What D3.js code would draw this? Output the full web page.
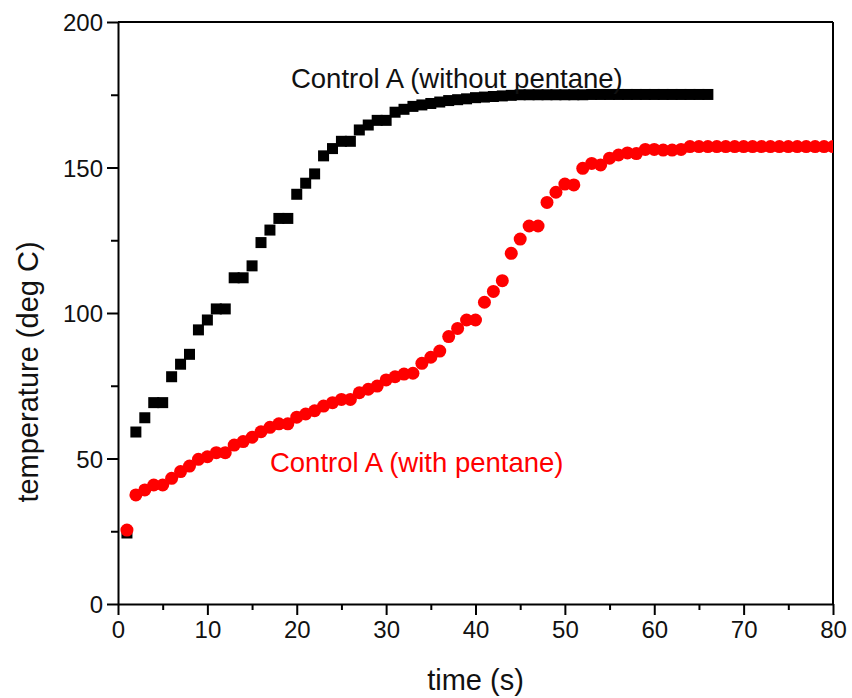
<!DOCTYPE html>
<html>
<head>
<meta charset="utf-8">
<script src="https://cdn.jsdelivr.net/npm/d3@7"></script>
<style>
  body { margin: 0; background: #fff; }
  svg { font-family: "Liberation Sans", Arial, sans-serif; }
</style>
</head>
<body>
<div class="chart"></div>
<script>
// time (s) for each series
var timeBlack = d3.range(1, 67);
var timeRed = d3.range(1, 81);

// Control A (without pentane)
var tempBlack = [24.4, 59.1, 64, 69.2, 69.2, 78.1, 82.4, 85.8, 94.2, 97.6,
    101.4, 101.4, 112.1, 112.1, 116.2, 124.2, 128.5, 132.5, 132.5, 140.8,
    144.6, 147.8, 154, 156.5, 159, 159, 162.9, 164.6, 166.2, 166.2,
    169, 170, 171, 171.5, 172, 172.5, 173, 173.3, 173.6, 174,
    174.2, 174.4, 174.6, 174.8, 175, 175, 175, 175, 175, 175,
    175, 175, 175.1, 175.1, 175.1, 175.1, 175.1, 175.1, 175.1, 175.1,
    175.1, 175.1, 175.1, 175.1, 175.1, 175.1];

// Control A (with pentane)
var tempRed = [25.4, 37.5, 39.2, 40.9, 40.9, 43.2, 45.5, 47.4, 49.7, 50.6,
    52, 52, 54.6, 55.8, 57.3, 59.2, 60.7, 61.9, 61.9, 64.2,
    65.3, 66.4, 68, 69.2, 70.3, 70.3, 72.6, 73.8, 74.9, 77,
    78.1, 79, 79.3, 82.7, 84.8, 86.9, 91.9, 94.7, 97.6, 97.6,
    103.7, 107.4, 111.1, 120.5, 125.4, 129.9, 129.9, 138, 141.5, 144.3,
    144, 149.7, 151.4, 150.9, 153.2, 154.3, 155, 154.8, 156.2, 156.2,
    156, 156, 156.2, 157.2, 157.2, 157.2, 157.2, 157.2, 157.2, 157.2,
    157.2, 157.2, 157.2, 157.2, 157.2, 157.2, 157.2, 157.2, 157.2, 157.2];

var xTicks = [0, 10, 20, 30, 40, 50, 60, 70, 80];
var yTicks = [0, 50, 100, 150, 200];

var margin = { top: 22, right: 19, bottom: 94, left: 118 },
    width = 852 - margin.left - margin.right,
    height = 698 - margin.top - margin.bottom;

var svg = d3.select(".chart")
    .append("svg")
    .attr("width", 852)
    .attr("height", 698)
    .append("g")
    .attr("transform", "translate(" + margin.left + "," + margin.top + ")");

var x = d3.scaleLinear().domain([0, 80]).range([0, width]);
var y = d3.scaleLinear().domain([0, 200]).range([height, 0]);

svg.append("clipPath").attr("id", "plotclip")
    .append("rect").attr("width", width).attr("height", height);

// minor ticks first, then major axes on top
svg.append("g")
    .attr("transform", "translate(0," + height + ")")
    .call(d3.axisBottom(x).tickValues(d3.range(5, 80, 10)).tickSize(6).tickFormat(""))
    .call(g => g.select(".domain").remove())
    .selectAll("line").attr("stroke-width", 2);

svg.append("g")
    .call(d3.axisLeft(y).tickValues(d3.range(25, 200, 50)).tickSize(7).tickFormat(""))
    .call(g => g.select(".domain").remove())
    .selectAll("line").attr("stroke-width", 2);

var xAxis = svg.append("g")
    .attr("transform", "translate(0," + height + ")")
    .call(d3.axisBottom(x).tickValues(xTicks).tickSize(11).tickSizeOuter(0).tickPadding(6));

var yAxis = svg.append("g")
    .call(d3.axisLeft(y).tickValues(yTicks).tickSize(11).tickSizeOuter(0).tickPadding(4));

[xAxis, yAxis].forEach(function (g) {
    g.select(".domain").attr("stroke-width", 2);
    g.selectAll("line").attr("stroke-width", 2);
    g.selectAll("text").style("font-size", "24px").attr("fill", "#111");
});
yAxis.selectAll("text").attr("dy", "0.36em");

// frame top and right
svg.append("line").attr("x1", 0).attr("x2", width).attr("y1", 0).attr("y2", 0)
    .attr("stroke", "black").attr("stroke-width", 2);
svg.append("line").attr("x1", width).attr("x2", width).attr("y1", 0).attr("y2", height)
    .attr("stroke", "black").attr("stroke-width", 2);

var plot = svg.append("g").attr("clip-path", "url(#plotclip)");

var sq = 11;
plot.selectAll(".sq")
    .data(timeBlack)
    .enter()
    .append("rect")
    .attr("class", "sq")
    .attr("x", function (d, i) { return x(d) - sq / 2; })
    .attr("y", function (d, i) { return y(tempBlack[i]) - sq / 2; })
    .attr("width", sq)
    .attr("height", sq)
    .style("fill", "black");

plot.selectAll(".dot")
    .data(timeRed)
    .enter()
    .append("circle")
    .attr("class", "dot")
    .attr("cx", function (d) { return x(d); })
    .attr("cy", function (d, i) { return y(tempRed[i]); })
    .attr("r", 6.5)
    .style("fill", "#ff0000");

svg.append("text")
    .attr("x", x(19.35))
    .attr("y", y(177.3))
    .style("font-size", "27.5px")
    .attr("fill", "#111")
    .text("Control A (without pentane)");

svg.append("text")
    .attr("x", x(17))
    .attr("y", y(45.4))
    .style("font-size", "27.5px")
    .attr("fill", "#ff0000")
    .text("Control A (with pentane)");

svg.append("text")
    .attr("x", width / 2)
    .attr("y", height + 86)
    .style("text-anchor", "middle")
    .style("font-size", "29px")
    .attr("fill", "#111")
    .text("time (s)");

svg.append("text")
    .attr("transform", "rotate(-90)")
    .attr("x", 0 - 350)
    .attr("y", 0 - margin.left + 38)
    .style("text-anchor", "middle")
    .style("font-size", "29px")
    .attr("fill", "#111")
    .text("temperature (deg C)");
</script>
</body>
</html>
